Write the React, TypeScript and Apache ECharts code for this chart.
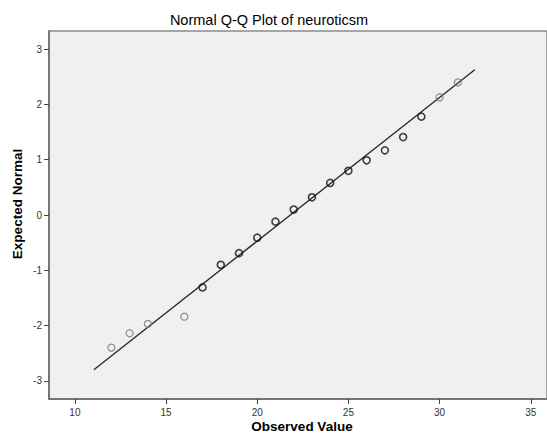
import React, { useEffect, useRef } from "react";
import * as echarts from "echarts";

const observed = [12, 13, 14, 16, 17, 18, 19, 20, 21, 22, 23, 24, 25, 26, 27, 28, 29, 30, 31];
const expected = [-2.4, -2.14, -1.97, -1.84, -1.31, -0.9, -0.69, -0.41, -0.12, 0.1, 0.32, 0.58, 0.8, 0.99, 1.17, 1.41, 1.78, 2.13, 2.4];
const pointShade = ["gray", "gray", "gray", "gray", "dark", "dark", "dark", "dark", "dark", "dark", "dark", "dark", "dark", "dark", "dark", "dark", "dark", "gray", "gray"];
const refLineX = [11.04, 31.93];
const refLineY = [-2.8, 2.63];
const xTicks = [10, 15, 20, 25, 30, 35];
const yTicks = [-3, -2, -1, 0, 1, 2, 3];

export default function App() {
  const ref = useRef<HTMLDivElement>(null);
  useEffect(() => {
    if (!ref.current) return;
    const chart = echarts.init(ref.current, null, { renderer: "svg" });
    const font = "Liberation Sans, Arial, sans-serif";
    const grayPts = observed
      .map((x, i) => [x, expected[i], pointShade[i]] as [number, number, string])
      .filter((p) => p[2] === "gray")
      .map((p) => [p[0], p[1]]);
    const darkPts = observed
      .map((x, i) => [x, expected[i], pointShade[i]] as [number, number, string])
      .filter((p) => p[2] === "dark")
      .map((p) => [p[0], p[1]]);
    chart.setOption({
      animation: false,
      backgroundColor: "#ffffff",
      grid: {
        left: 49,
        top: 31,
        right: -2,
        bottom: 46,
        show: true,
        backgroundColor: "#f0f0f0",
        borderColor: "#8a8a8a",
        borderWidth: 1.5,
      },
      graphic: [
        {
          type: "text",
          x: 269,
          y: 20,
          style: {
            text: "Normal Q-Q Plot of neuroticsm",
            fill: "#000",
            font: `14.5px ${font}`,
            textAlign: "center",
            textVerticalAlign: "middle",
          },
        },
        {
          type: "text",
          x: 17,
          y: 204,
          rotation: Math.PI / 2,
          style: {
            text: "Expected Normal",
            fill: "#000",
            font: `bold 13.5px ${font}`,
            textAlign: "center",
            textVerticalAlign: "middle",
          },
        },
        {
          type: "text",
          x: 302,
          y: 426,
          style: {
            text: "Observed Value",
            fill: "#000",
            font: `bold 13.5px ${font}`,
            textAlign: "center",
            textVerticalAlign: "middle",
          },
        },
      ],
      xAxis: {
        type: "value",
        min: 8.58,
        max: 35.89,
        splitLine: { show: false },
        axisLine: { show: true, onZero: false, lineStyle: { color: "#666", width: 1.5 } },
        axisTick: { show: true, length: 5, customValues: xTicks, lineStyle: { color: "#444" } },
        axisLabel: {
          customValues: xTicks,
          margin: 8,
          color: "#333",
          fontSize: 10,
          fontFamily: font,
        },
      },
      yAxis: {
        type: "value",
        min: -3.33,
        max: 3.33,
        splitLine: { show: false },
        axisLine: { show: true, onZero: false, lineStyle: { color: "#666", width: 1.5 } },
        axisTick: { show: true, length: 5, customValues: yTicks, lineStyle: { color: "#444" } },
        axisLabel: {
          customValues: yTicks,
          margin: 7,
          color: "#333",
          fontSize: 10,
          fontFamily: font,
        },
      },
      series: [
        {
          type: "line",
          data: refLineX.map((x, i) => [x, refLineY[i]]),
          showSymbol: false,
          lineStyle: { color: "#2a2a2a", width: 1.4 },
          silent: true,
          z: 1,
        },
        {
          type: "scatter",
          data: grayPts,
          symbol: "circle",
          symbolSize: 7,
          itemStyle: { color: "rgba(0,0,0,0)", borderColor: "#7a7a7a", borderWidth: 1.3 },
          z: 2,
        },
        {
          type: "scatter",
          data: darkPts,
          symbol: "circle",
          symbolSize: 7,
          itemStyle: { color: "rgba(0,0,0,0)", borderColor: "#111", borderWidth: 1.6 },
          z: 3,
        },
      ],
    });
    return () => chart.dispose();
  }, []);
  return <div ref={ref} style={{ width: 547, height: 445, position: "absolute", left: 0, top: 0 }} />;
}
